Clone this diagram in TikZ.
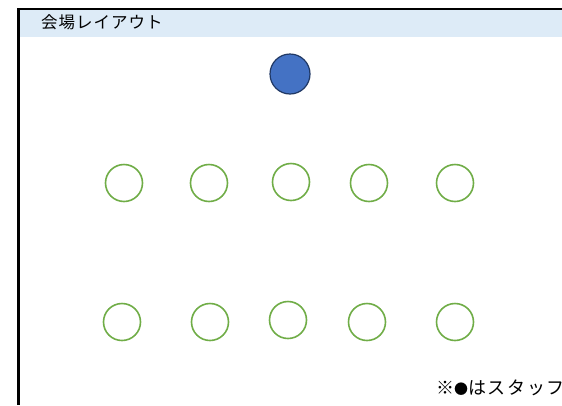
\documentclass[tikz,border=0pt]{standalone}
\usepackage{fontspec}
\setmainfont{Noto Sans CJK JP}
\definecolor{bandblue}{RGB}{221,235,247}
\definecolor{seatgreen}{RGB}{112,173,71}
\definecolor{staffblue}{RGB}{68,114,196}
\definecolor{staffedge}{RGB}{32,56,100}
\tikzset{
  seat/.style={circle,draw=seatgreen,line width=1.6pt,minimum size=37pt,inner sep=0pt},
  staff/.style={circle,draw=staffedge,fill=staffblue,line width=1.2pt,minimum size=40pt,inner sep=0pt},
  caption/.style={font=\fontsize{16.5}{16.5}\selectfont\addfontfeatures{LetterSpace=6},inner sep=0pt,anchor=west}
}

\begin{document}
\begin{tikzpicture}[x=1pt,y=-1pt]
  \useasboundingbox (0,0) rectangle (562,405);
  \clip (0,0) rectangle (562,405);
  \fill[white] (0,0) rectangle (562,405);
  \fill[bandblue] (19,10) rectangle (562,37);
  \draw[line width=2pt] (17,9) -- (562,9);
  \draw[line width=3pt] (18.5,8) -- (18.5,405);
  \node[caption] (title) at (41,22) {会場レイアウト};
  % staff
  \node[staff] (staff) at (290,74) {};
  % front row
  \node[seat] (a1) at (124,183) {};
  \node[seat] (a2) at (209,183) {};
  \node[seat] (a3) at (291,182) {};
  \node[seat] (a4) at (369,183) {};
  \node[seat] (a5) at (455,183) {};
  % back row
  \node[seat] (b1) at (122,322) {};
  \node[seat] (b2) at (210,322) {};
  \node[seat] (b3) at (288,320) {};
  \node[seat] (b4) at (367,322) {};
  \node[seat] (b5) at (455,322) {};
  \node[caption,font=\fontsize{18}{18}\selectfont\addfontfeatures{LetterSpace=9}] (note) at (436,388) {※{\fontsize{14}{14}\selectfont ●}はスタッフ};
\end{tikzpicture}
\end{document}
